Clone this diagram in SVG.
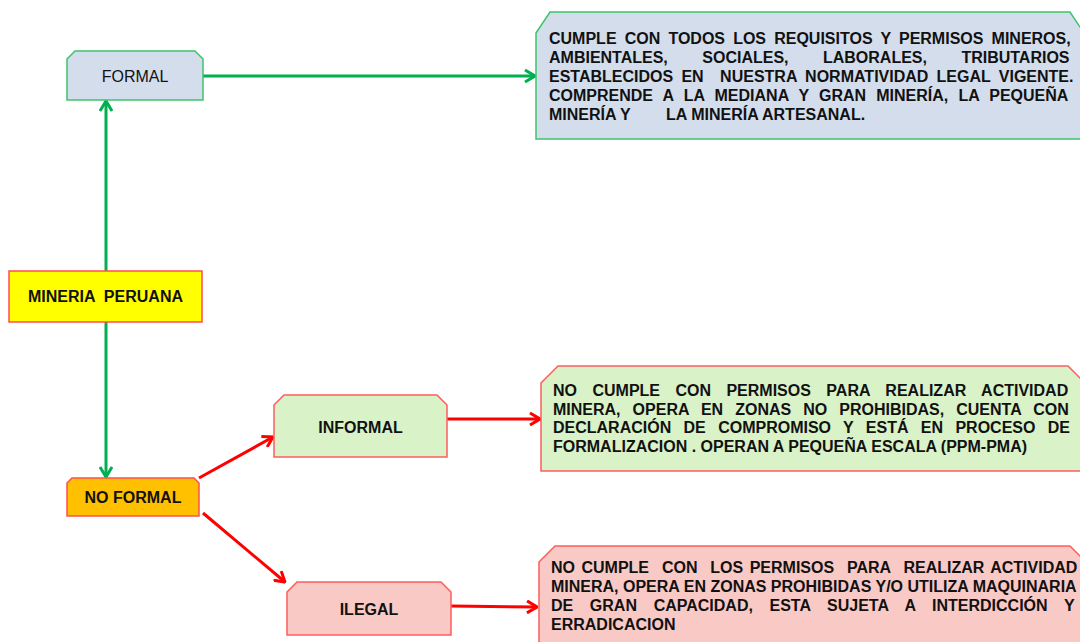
<svg xmlns="http://www.w3.org/2000/svg" width="1080" height="642" viewBox="0 0 1080 642">
<style>
.t{font-family:"Liberation Sans",Arial,sans-serif;fill:#111;}
.b{font-weight:bold;}
.lbl{font-size:16px;text-anchor:middle;}
.d15{font-size:16px;font-weight:bold;}
.d16{font-size:16px;font-weight:bold;}
.g{stroke:#00b050;stroke-width:3;fill:none;}
.r{stroke:#ff0000;stroke-width:3;fill:none;}
.blue{fill:#d3ddec;stroke:#3cc46c;stroke-width:1.5;}
.yel{fill:#ffff00;stroke:#ff4d4d;stroke-width:1.5;}
.org{fill:#ffc000;stroke:#ff5050;stroke-width:1.5;}
.grn{fill:#d9f2c7;stroke:#ff5c5c;stroke-width:1.5;}
.pnk{fill:#f9c9c5;stroke:#ff5c5c;stroke-width:1.5;}
</style>
<defs>
<marker id="ag" viewBox="0 0 12 14" refX="11" refY="7" markerWidth="12" markerHeight="14" markerUnits="userSpaceOnUse" orient="auto"><path d="M1,1 L11,7 L1,13" fill="none" stroke="#00b050" stroke-width="3"/></marker>
<marker id="ar" viewBox="0 0 12 14" refX="11" refY="7" markerWidth="12" markerHeight="14" markerUnits="userSpaceOnUse" orient="auto"><path d="M1,1 L11,7 L1,13" fill="none" stroke="#ff0000" stroke-width="3"/></marker>
</defs>
<rect width="1080" height="642" fill="#ffffff"/>
<g id="connectors">
<line class="g" x1="106" y1="271" x2="106" y2="101" marker-end="url(#ag)"/>
<line class="g" x1="203" y1="76" x2="535" y2="76" marker-end="url(#ag)"/>
<line class="g" x1="106" y1="322" x2="106" y2="477" marker-end="url(#ag)"/>
<line class="r" x1="199" y1="478" x2="273" y2="437" marker-end="url(#ar)"/>
<line class="r" x1="203" y1="513" x2="285" y2="582" marker-end="url(#ar)"/>
<line class="r" x1="447" y1="419" x2="540" y2="419" marker-end="url(#ar)"/>
<line class="r" x1="451" y1="606" x2="537" y2="607" marker-end="url(#ar)"/>
</g>
<g id="formal">
<path class="blue" d="M67,59 L75,51 L195,51 L203,59 L203,100 L67,100 Z"/>
<text class="t lbl" x="135" y="82">FORMAL</text>
</g>
<g id="formal-desc">
<path class="blue" d="M536,33 L550,12 L1070,12 L1084,33 L1084,139 L536,139 Z"/>
<text class="t d15" x="549" y="43.5" word-spacing="3.7">CUMPLE CON TODOS LOS REQUISITOS Y PERMISOS MINEROS,</text>
<text class="t d15" x="549" y="62.5" word-spacing="30">AMBIENTALES, SOCIALES, LABORALES, TRIBUTARIOS</text>
<text class="t d15" x="549" y="81.5" word-spacing="3.8" xml:space="preserve">ESTABLECIDOS EN  NUESTRA NORMATIVIDAD LEGAL VIGENTE.</text>
<text class="t d15" x="549" y="100.5" word-spacing="5.7">COMPRENDE A LA MEDIANA Y GRAN MINERÍA, LA PEQUEÑA</text>
<text class="t d15" y="119.5"><tspan x="549">MINERÍA Y</tspan><tspan x="666">LA MINERÍA ARTESANAL.</tspan></text>
</g>
<g id="mineria-peruana">
<rect class="yel" x="9" y="271" width="193" height="51"/>
<text class="t b lbl" x="105.5" y="302" xml:space="preserve">MINERIA  PERUANA</text>
</g>
<g id="no-formal">
<path class="org" d="M67,483 L72,478 L194,478 L199,483 L199,516 L67,516 Z"/>
<text class="t b lbl" x="133" y="503">NO FORMAL</text>
</g>
<g id="informal">
<path class="grn" d="M274,405 L284,395 L437,395 L447,405 L447,457 L274,457 Z"/>
<text class="t b lbl" x="360.5" y="432.5">INFORMAL</text>
</g>
<g id="informal-desc">
<path class="grn" d="M541,383 L558,366 L1068,366 L1085,383 L1085,471 L541,471 Z"/>
<text class="t d16" x="553" y="396" word-spacing="11">NO CUMPLE CON PERMISOS PARA REALIZAR ACTIVIDAD</text>
<text class="t d16" x="553" y="414.5" word-spacing="7.6">MINERA, OPERA EN ZONAS NO PROHIBIDAS, CUENTA CON</text>
<text class="t d16" x="553" y="433" word-spacing="7.9">DECLARACIÓN DE COMPROMISO Y ESTÁ EN PROCESO DE</text>
<text class="t d16" x="553" y="451.5">FORMALIZACION . OPERAN A PEQUEÑA ESCALA (PPM-PMA)</text>
</g>
<g id="ilegal">
<path class="pnk" d="M287,592 L297,582 L441,582 L451,592 L451,635 L287,635 Z"/>
<text class="t b lbl" x="369" y="614.5">ILEGAL</text>
</g>
<g id="ilegal-desc">
<path class="pnk" d="M539,562 L555,546 L1070,546 L1086,562 L1086,660 L539,660 Z"/>
<text class="t d16" x="551" y="573" word-spacing="2" xml:space="preserve">NO CUMPLE  CON  LOS PERMISOS  PARA  REALIZAR ACTIVIDAD</text>
<text class="t d16" x="551" y="592">MINERA, OPERA EN ZONAS PROHIBIDAS Y/O UTILIZA MAQUINARIA</text>
<text class="t d16" x="551" y="611" word-spacing="12.2">DE GRAN CAPACIDAD, ESTA SUJETA A INTERDICCIÓN Y</text>
<text class="t d16" x="551" y="630">ERRADICACION</text>
</g>
</svg>
